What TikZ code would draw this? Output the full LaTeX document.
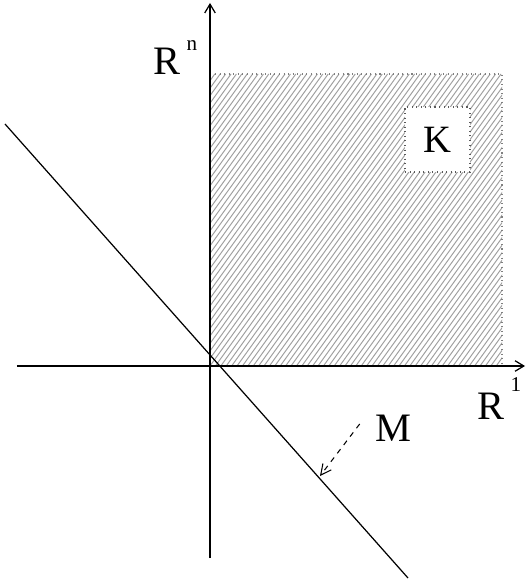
\documentclass[tikz,border=0pt]{standalone}
\usepackage{fontspec}
\setmainfont{Liberation Serif}
\usetikzlibrary{arrows.meta, positioning, calc}

\begin{document}
\begin{tikzpicture}[
    axis/.style={line width=0.7pt, -{Straight Barb[length=5pt, width=6pt]}},
    hatch/.style={gray!75, line width=0.55pt},
    lbl/.style={inner sep=0pt, font=\fontsize{23}{25}\selectfont},
    sup/.style={inner sep=0pt, font=\fontsize{12}{14}\selectfont},
    >=Stealth
  ]
  \useasboundingbox (-4.2,-4.34) rectangle (6.34,7.32);

  % Hatched region
  \begin{scope}
    \clip (0,0) rectangle (5.84,5.84);
    \foreach \i in {-42,...,54} {
      \draw[hatch] (\i*0.108, 0) -- ++(4.2, 5.84);
    }
  \end{scope}
  \draw[gray, dotted, line width=0.6pt] (0,0) rectangle (5.84,5.84);

  % K
  \node[draw=gray!70!black, dotted, line width=0.6pt, fill=white,
        minimum width=1.3cm, minimum height=1.3cm, font=\fontsize{22}{24}\selectfont]
        (kbox) at (4.55,4.53) {K};

  % Axes
  \coordinate (o) at (0,0);
  \coordinate (xl) at (-3.86,0);
  \coordinate (xr) at (6.3,0);
  \coordinate (yb) at (0,-3.84);
  \coordinate (yt) at (0,7.26);
  \draw[axis] (xl) -- (xr);
  \draw[axis] (yb) -- (yt);

  % M
  \coordinate (mtop) at (-4.1,4.84);
  \coordinate (mbot) at (3.96,-4.24);
  \draw[line width=0.7pt] (mtop) -- (mbot);

  % Labels
  \node[lbl] (rn) at (-0.86,6.1) {R};
  \node[sup] (rnsup) at (-0.36,6.4) {n};
  \node[lbl] (r1) at (5.62,-0.8) {R};
  \node[sup] (r1sup) at (6.12,-0.38) {1};
  \node[lbl] (mlabel) at (3.66,-1.24) {M};

  \coordinate (mfoot) at (2.2,-2.2);
  \draw[dashed, line width=0.6pt, -{Straight Barb[length=6pt, width=6pt]}]
    ($(mlabel.west)+(-0.3,0.08)$) -- (mfoot);
\end{tikzpicture}
\end{document}
